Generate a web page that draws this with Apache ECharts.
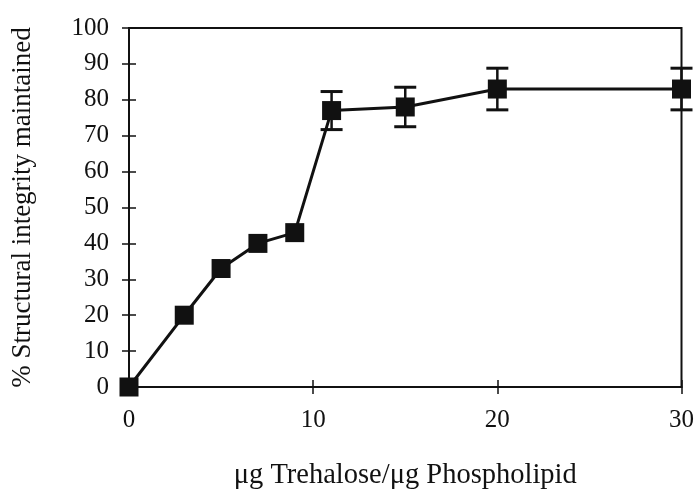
<!DOCTYPE html>
<html>
<head>
<meta charset="utf-8">
<script src="https://cdn.jsdelivr.net/npm/echarts@6/dist/echarts.min.js"></script>
<style>html,body{margin:0;padding:0;background:#fff}#c{width:697px;height:495px}</style>
</head>
<body>
<div id="c"></div>
<script>
const xValues = [0, 3, 5, 7, 9, 11, 15, 20, 30];
const yValues = [0, 20, 33, 40, 43, 77, 78, 83, 83];
const yErrors = [null, null, null, null, null, 5.3, 5.5, 5.8, 5.8];
const xTicks = [0, 10, 20, 30];
const yTicks = [0, 10, 20, 30, 40, 50, 60, 70, 80, 90, 100];
const xTitle = 'μg Trehalose/μg Phospholipid';
const yTitle = '% Structural integrity maintained';

const ink = '#111';
const font = 'Liberation Serif';
const points = xValues.map((x, i) => [x, yValues[i]]);
const errData = xValues.map((x, i) => [x, yValues[i], yErrors[i]]).filter(d => d[2] != null);

const chart = echarts.init(document.getElementById('c'));
chart.setOption({
  animation: false,
  backgroundColor: '#fff',
  grid: { left: 129, right: 14, top: 28, bottom: 102, show: true, borderColor: ink, borderWidth: 2, backgroundColor: 'transparent' },
  xAxis: [{
    type: 'value', min: xTicks[0], max: xTicks[xTicks.length - 1], interval: 10,
    name: xTitle, nameLocation: 'middle', nameGap: 74,
    nameTextStyle: { fontFamily: font, fontSize: 28.5, color: ink },
    axisLine: { show: true, lineStyle: { color: ink, width: 2 } },
    axisTick: { show: true, inside: false, length: 7, lineStyle: { color: ink, width: 1.5 } },
    axisLabel: { fontFamily: font, fontSize: 25, color: ink, margin: 21 },
    splitLine: { show: false }
  }, {
    type: 'value', position: 'bottom', min: xTicks[0], max: xTicks[xTicks.length - 1], interval: 10,
    axisLine: { show: false },
    axisTick: { show: true, inside: true, length: 7, lineStyle: { color: ink, width: 1.5 } },
    axisLabel: { show: false }, splitLine: { show: false }
  }],
  yAxis: [{
    type: 'value', min: yTicks[0], max: yTicks[yTicks.length - 1], interval: 10,
    name: yTitle, nameLocation: 'middle', nameGap: 93,
    nameTextStyle: { fontFamily: font, fontSize: 27, color: ink },
    axisLine: { show: true, lineStyle: { color: ink, width: 2 } },
    axisTick: { show: true, inside: false, length: 7, lineStyle: { color: ink, width: 1.5 } },
    axisLabel: { fontFamily: font, fontSize: 25, color: ink, margin: 20 },
    splitLine: { show: false }
  }, {
    type: 'value', position: 'left', min: yTicks[0], max: yTicks[yTicks.length - 1], interval: 10,
    axisLine: { show: false },
    axisTick: { show: true, inside: true, length: 7, lineStyle: { color: ink, width: 1.5 } },
    axisLabel: { show: false }, splitLine: { show: false }
  }],
  series: [{
    type: 'custom',
    xAxisIndex: 0, yAxisIndex: 0,
    data: errData,
    z: 3,
    renderItem: function (params, api) {
      const x = api.value(0), y = api.value(1), e = api.value(2);
      const hi = api.coord([x, y + e]);
      const lo = api.coord([x, y - e]);
      const hw = 11;
      const style = { stroke: ink, lineWidth: 3 };
      return {
        type: 'group',
        children: [
          { type: 'line', shape: { x1: hi[0], y1: hi[1], x2: lo[0], y2: lo[1] }, style: { stroke: ink, lineWidth: 2.5 } },
          { type: 'line', shape: { x1: hi[0] - hw, y1: hi[1], x2: hi[0] + hw, y2: hi[1] }, style: style },
          { type: 'line', shape: { x1: lo[0] - hw, y1: lo[1], x2: lo[0] + hw, y2: lo[1] }, style: style }
        ]
      };
    }
  }, {
    type: 'line',
    xAxisIndex: 0, yAxisIndex: 0,
    data: points,
    symbol: 'rect', symbolSize: 19,
    showSymbol: true,
    clip: false,
    z: 4,
    lineStyle: { color: ink, width: 3 },
    itemStyle: { color: ink, borderWidth: 0 }
  }]
});
</script>
</body>
</html>
